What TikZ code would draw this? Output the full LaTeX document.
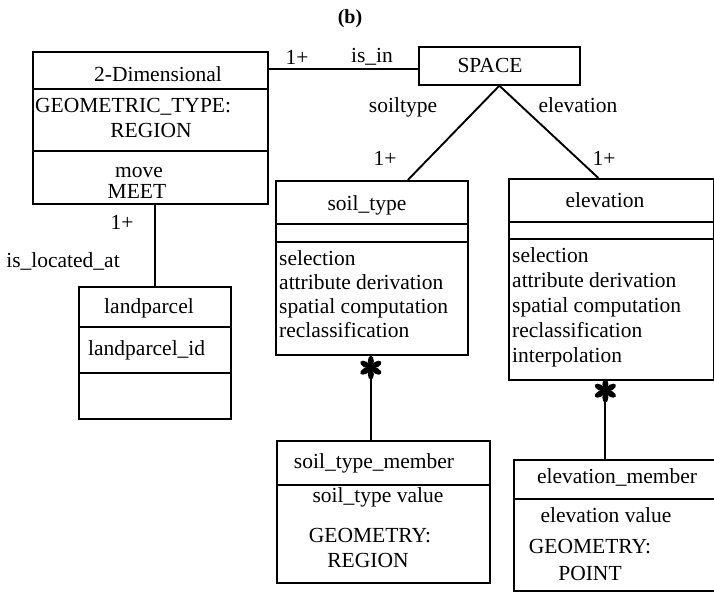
\documentclass[tikz,border=0pt]{standalone}
\usepackage{fontspec}
\setmainfont{Liberation Serif}
\usetikzlibrary{calc}
\begin{document}
\begin{tikzpicture}[x=1pt,y=-1pt,
  box/.style={draw,line width=1.7pt,inner sep=0pt,anchor=north west},
  conn/.style={line width=1.9pt},
  divider/.style={line width=1.7pt},
  lbl/.style={inner sep=0pt,font=\fontsize{21.5}{24}\selectfont},
  manystar/.pic={\foreach \a in {90,30,150,-30,-150,-90}
      \fill[rotate=\a] (6.5,0) ellipse [x radius=5.5, y radius=3];
      \fill (0,0) circle (2.8);}
]
\useasboundingbox (0,0) rectangle (714,592);
\clip (0,0) rectangle (714,592);
\fill[white] (0,0) rectangle (714,592);

% title
\node[lbl,anchor=base,font=\fontsize{20}{22}\selectfont\bfseries] (title) at (350,23) {(b)};

% 2-Dimensional
\node[box,minimum width=235pt,minimum height=152pt] (dim) at (32,51) {};
\draw[divider] (32,89) -- (267,89);
\draw[divider] (32,151) -- (267,151);
\node[lbl,anchor=base] (dimname) at (158,81) {2-Dimensional};
\node[lbl,anchor=base west] (dimgt) at (35,112) {GEOMETRIC\_TYPE:};
\node[lbl,anchor=base] (dimreg) at (151,137) {REGION};
\node[lbl,anchor=base] (dimmove) at (139,177) {move};
\node[lbl,anchor=base] (dimmeet) at (137,198) {MEET};

% SPACE
\node[box,minimum width=161pt,minimum height=38pt] (space) at (418,46) {};
\node[lbl,anchor=base] (spacename) at (490,72) {SPACE};

% soil_type
\node[box,minimum width=192pt,minimum height=174pt] (soil) at (275,180) {};
\draw[divider] (275,224) -- (467,224);
\draw[divider] (275,242) -- (467,242);
\node[lbl,anchor=base] (soilname) at (367,210) {soil\_type};
\node[lbl,anchor=base west] (s1) at (279,265) {selection};
\node[lbl,anchor=base west] (s2) at (279,289) {attribute derivation};
\node[lbl,anchor=base west] (s3) at (279,313) {spatial computation};
\node[lbl,anchor=base west] (s4) at (279,337) {reclassification};

% elevation
\node[box,minimum width=205pt,minimum height=201pt] (elev) at (508,178) {};
\draw[divider] (508,222) -- (713,222);
\draw[line width=2.1pt] (508,239) -- (713,239);
\node[lbl,anchor=base] (elevname) at (605,207) {elevation};
\node[lbl,anchor=base west] (e1) at (512,262) {selection};
\node[lbl,anchor=base west] (e2) at (512,287) {attribute derivation};
\node[lbl,anchor=base west] (e3) at (512,312) {spatial computation};
\node[lbl,anchor=base west] (e4) at (512,337) {reclassification};
\node[lbl,anchor=base west] (e5) at (512,362) {interpolation};

% landparcel
\node[box,minimum width=152pt,minimum height=132pt] (lp) at (78,286) {};
\draw[divider] (78,327) -- (230,327);
\draw[divider] (78,373) -- (230,373);
\node[lbl,anchor=base] (lpname) at (149,313) {landparcel};
\node[lbl,anchor=base west] (lpid) at (88,355) {landparcel\_id};

% soil_type_member
\node[box,minimum width=213pt,minimum height=142pt] (stm) at (276,440) {};
\draw[divider] (276,485) -- (489,485);
\node[lbl,anchor=base] (stmname) at (374,468) {soil\_type\_member};
\node[lbl,anchor=base] (stmval) at (378,502) {soil\_type value};
\node[lbl,anchor=base] (stmgeo) at (370,542) {GEOMETRY:};
\node[lbl,anchor=base] (stmreg) at (368,567) {REGION};

% elevation_member
\node[box,minimum width=210pt,minimum height=131pt] (em) at (513,459) {};
\draw[divider] (513,499) -- (723,499);
\node[lbl,anchor=base] (emname) at (617,483) {elevation\_member};
\node[lbl,anchor=base] (emval) at (606,522) {elevation value};
\node[lbl,anchor=base] (emgeo) at (590,553) {GEOMETRY:};
\node[lbl,anchor=base] (empt) at (590,580) {POINT};

% connectors
\coordinate (isin) at ($(dim.north east)+(0,18)$);
\draw[conn] (isin) -- (isin -| space.west);
\node[lbl,anchor=base] (m1) at (297,64) {1+};
\node[lbl,anchor=base] (isinlbl) at (372,62) {is\_in};

\coordinate (soiltop) at ($(soil.north)+(36,0)$);
\coordinate (elevtop) at ($(elev.north)+(-13,0)$);
\draw[conn] (space.south) -- (soiltop);
\draw[conn] (space.south) -- (elevtop);
\node[lbl,anchor=base] (soiltypelbl) at (403,112) {soiltype};
\node[lbl,anchor=base] (elevlbl) at (578,112) {elevation};
\node[lbl,anchor=base] (m2) at (385,165) {1+};
\node[lbl,anchor=base] (m3) at (604,165) {1+};

\coordinate (dimbot) at (lp.north |- dim.south);
\draw[conn] (dimbot) -- (lp.north);
\node[lbl,anchor=base] (m4) at (122,229) {1+};
\node[lbl,anchor=base] (loclbl) at (63,267) {is\_located\_at};

\coordinate (soilbot) at ($(soil.south)+(-1,0)$);
\draw[conn] (soilbot) -- (soilbot |- stm.north);
\pic at ($(soilbot)+(0,12)$) {manystar};

\coordinate (elevbot) at ($(elev.south)+(-6,0)$);
\draw[conn] (elevbot) -- (elevbot |- em.north);
\pic at ($(elevbot)+(0,10)$) {manystar};
\end{tikzpicture}
\end{document}
